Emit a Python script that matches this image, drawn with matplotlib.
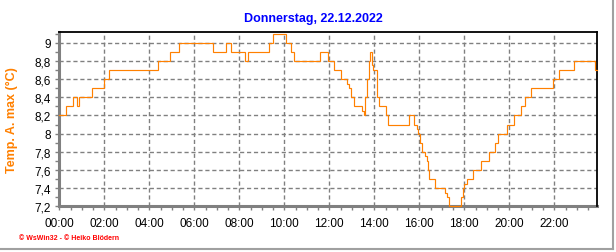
import matplotlib
matplotlib.use("Agg")
import matplotlib.pyplot as plt
from matplotlib.lines import Line2D
from matplotlib.ticker import MultipleLocator, FuncFormatter

# step-change times (hours) and values (°C)
times = [0.00, 0.28, 0.62, 0.78, 0.88, 1.45, 2.00, 2.22, 4.40, 4.90, 5.30, 6.83,
         7.40, 7.62, 8.25, 8.37, 9.30, 9.48, 10.07, 10.28, 10.45, 11.58, 11.95,
         12.20, 12.50, 12.80, 12.87, 12.95, 13.08, 13.45, 13.52, 13.58, 13.67,
         13.75, 13.83, 13.90, 13.95, 14.12, 14.20, 14.50, 14.60, 15.55, 15.75,
         15.88, 15.95, 16.05, 16.13, 16.25, 16.33, 16.40, 16.45, 16.70, 17.15,
         17.22, 17.30, 17.85, 17.92, 18.00, 18.12, 18.40, 18.72, 19.10, 19.35,
         19.48, 19.88, 20.22, 20.50, 20.70, 20.98, 21.95, 22.22, 22.87, 23.83, 23.91]
values = [8.2, 8.3, 8.4, 8.3, 8.4, 8.5, 8.6, 8.7, 8.8, 8.9, 9.0, 8.9,
          9.0, 8.9, 8.8, 8.9, 9.0, 9.1, 9.0, 8.9, 8.8, 8.9, 8.8,
          8.7, 8.6, 8.55, 8.5, 8.4, 8.3, 8.25, 8.2, 8.4, 8.6,
          8.8, 8.9, 8.75, 8.7, 8.4, 8.3, 8.2, 8.1, 8.2, 8.1,
          8.05, 8.0, 7.9, 7.8, 7.75, 7.7, 7.6, 7.5, 7.4, 7.35,
          7.3, 7.2, 7.3, 7.4, 7.45, 7.5, 7.6, 7.7, 7.8, 7.9,
          8.0, 8.1, 8.2, 8.3, 8.4, 8.5, 8.6, 8.7, 8.8, 8.7, 8.7]

x_ticks = [0, 2, 4, 6, 8, 10, 12, 14, 16, 18, 20, 22]
x_labels = ["00:00", "02:00", "04:00", "06:00", "08:00", "10:00",
            "12:00", "14:00", "16:00", "18:00", "20:00", "22:00"]
y_ticks = [7.2, 7.4, 7.6, 7.8, 8.0, 8.2, 8.4, 8.6, 8.8, 9.0]

title = "Donnerstag, 22.12.2022"
ylabel = "Temp. A. max (°C)"
footer = "© WsWin32 - © Heiko Blödern"

plt.rcParams['font.family'] = ['Liberation Sans', 'DejaVu Sans']

fig = plt.figure(figsize=(6.16, 2.53), dpi=100)
fig.patch.set_facecolor("white")
ax = fig.add_axes([59.3/616, 1-207.3/253, 538/616, 174/253])

ax.plot(times, values, drawstyle="steps-post", color="#FF8000", lw=0.85,
        solid_joinstyle="miter", zorder=3, clip_on=False)

ax.set_xlim(0, 23.91)
ax.set_ylim(7.2, 9.115)
ax.set_xticks(x_ticks)
ax.set_xticklabels(x_labels)
ax.xaxis.set_minor_locator(MultipleLocator(0.5))
ax.set_yticks(y_ticks)
ax.yaxis.set_major_formatter(FuncFormatter(
    lambda v, p: ("%g" % round(v, 1)).replace(".", ",")))
ax.yaxis.set_minor_locator(MultipleLocator(0.1))

ax.grid(True, which="major", color="#808080", linestyle=(0, (3, 2)), lw=1.0, zorder=1)
ax.tick_params(axis="both", which="both", colors="#808080", labelcolor="black",
               labelsize=8.5, direction="out")
ax.tick_params(axis="x", which="major", length=3, width=1, pad=5)
ax.tick_params(axis="x", which="minor", length=3, width=1)
ax.tick_params(axis="y", which="major", length=3, width=1, pad=3)
ax.tick_params(axis="y", which="minor", length=3, width=1)

for s in ("left", "bottom"):
    ax.spines[s].set_color("#808080")
    ax.spines[s].set_linewidth(2.2)
    ax.spines[s].set_zorder(2)
for s in ("top", "right"):
    ax.spines[s].set_color("black")
    ax.spines[s].set_linewidth(1.3)

fig.text(313/616, 1-19/253, title, color="#0000FF", fontsize=9, fontweight="bold",
         ha="center", va="center")
fig.text(12/616, 1-120/253, ylabel, color="#FF8000", fontsize=9, fontweight="bold",
         rotation=90, ha="center", va="center")
fig.text(19/616, 1-239/253, footer, color="#FF0000", fontsize=5, fontweight="bold",
         ha="left", va="center")

# grey frame on right and bottom
fig.add_artist(Line2D([613/616, 613/616], [1-250/253, 1.0], transform=fig.transFigure,
                      color="#A0A0A0", lw=1.5))
fig.add_artist(Line2D([0, 613/616], [1-250/253, 1-250/253], transform=fig.transFigure,
                      color="#A0A0A0", lw=1.5))

fig.savefig("out.png", dpi=100)
